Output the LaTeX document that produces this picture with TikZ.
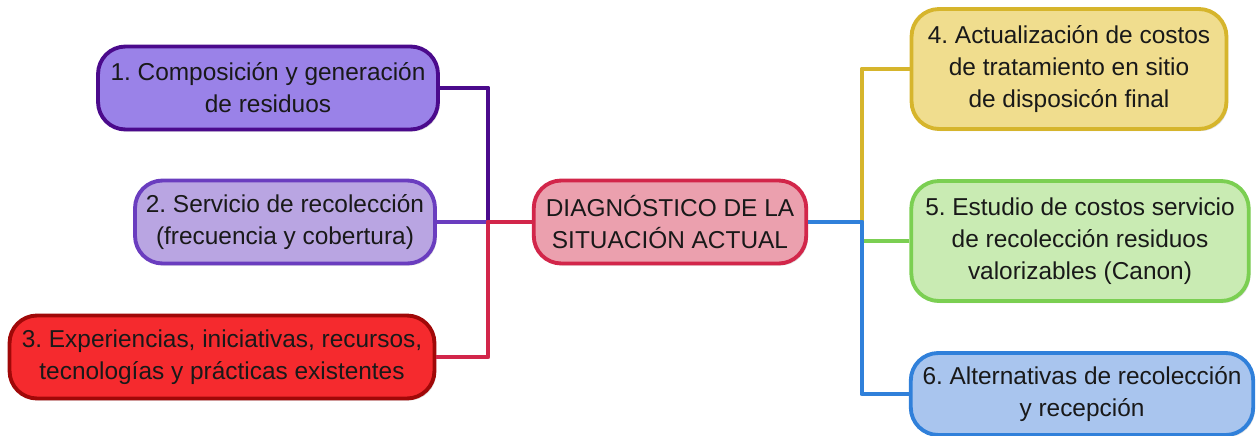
\documentclass[tikz,border=0pt]{standalone}
\usepackage{fontspec}
\setmainfont{Liberation Sans}
\usepackage{tikz}
\usetikzlibrary{positioning,shadows}
\frenchspacing

\definecolor{pdark}{HTML}{4B0A8C}
\definecolor{pfill}{HTML}{9A82E8}
\definecolor{lline}{HTML}{6A3DBF}
\definecolor{lfill}{HTML}{B9A5E2}
\definecolor{rline}{HTML}{A00808}
\definecolor{rfill}{HTML}{F52A2E}
\definecolor{cline}{HTML}{D2264A}
\definecolor{cfill}{HTML}{EBA0AE}
\definecolor{yline}{HTML}{D6B52C}
\definecolor{yfill}{HTML}{F0DD8E}
\definecolor{gline}{HTML}{7BCF52}
\definecolor{gfill}{HTML}{C9EBB3}
\definecolor{bline}{HTML}{3080DA}
\definecolor{bfill}{HTML}{A9C5EE}

\begin{document}
\begin{tikzpicture}[x=0.02cm,y=-0.02cm,
	box/.style={rounded corners=0.55cm, line width=2.2pt, align=center,
		inner sep=2pt, font=\fontsize{13.9}{18.2}\selectfont, text=black!90,
		drop shadow={opacity=0.25, shadow xshift=1pt, shadow yshift=-1.2pt}},
	link/.style={line width=2.8pt, line join=round}]
\useasboundingbox (0,0) rectangle (1258,436);

% left side
\node[box, draw=pdark, fill=pfill, minimum width=6.8cm, minimum height=1.66cm] (comp) at (268,88) {1. Composición y generación\\de residuos};
\node[box, draw=lline, fill=lfill, minimum width=6.0cm, minimum height=1.66cm] (serv) at (285,222) {2. Servicio de recolección\\(frecuencia y cobertura)};
\node[box, draw=rline, fill=rfill, minimum width=8.5cm, minimum height=1.66cm] (expe) at (222,357) {3. Experiencias, iniciativas, recursos,\\tecnologías y prácticas existentes};

% centre
\node[box, draw=cline, fill=cfill, minimum width=5.45cm, minimum height=1.66cm] (diag) at (670,222) {DIAGNÓSTICO DE LA\\SITUACIÓN ACTUAL};

% right side
\node[box, draw=yline, fill=yfill, minimum width=6.3cm, minimum height=2.4cm] (cost) at (1069,69) {4. Actualización de costos\\de tratamiento en sitio\\de disposicón final};
\node[box, draw=gline, fill=gfill, minimum width=6.75cm, minimum height=2.4cm] (estu) at (1080,241) {5. Estudio de costos servicio\\de recolección residuos\\valorizables (Canon)};
\node[box, draw=bline, fill=bfill, minimum width=6.85cm, minimum height=1.64cm] (alte) at (1082,394) {6. Alternativas de recolección\\y recepción};

\coordinate (lj) at (488,222);
\coordinate (rj) at (862,222);

% connectors left
\draw[link, pdark] (comp.east) -| (lj);
\draw[link, lline] (serv.east) -- (lj);
\draw[link, cline] (diag.west) -- (lj) |- (expe.east);

% connectors right
\draw[link, yline] (rj) |- (cost.west);
\draw[link, gline] (estu.west) -- (estu.west -| rj);
\draw[link, bline] (diag.east) -- (rj) |- (alte.west);
\end{tikzpicture}
\end{document}
